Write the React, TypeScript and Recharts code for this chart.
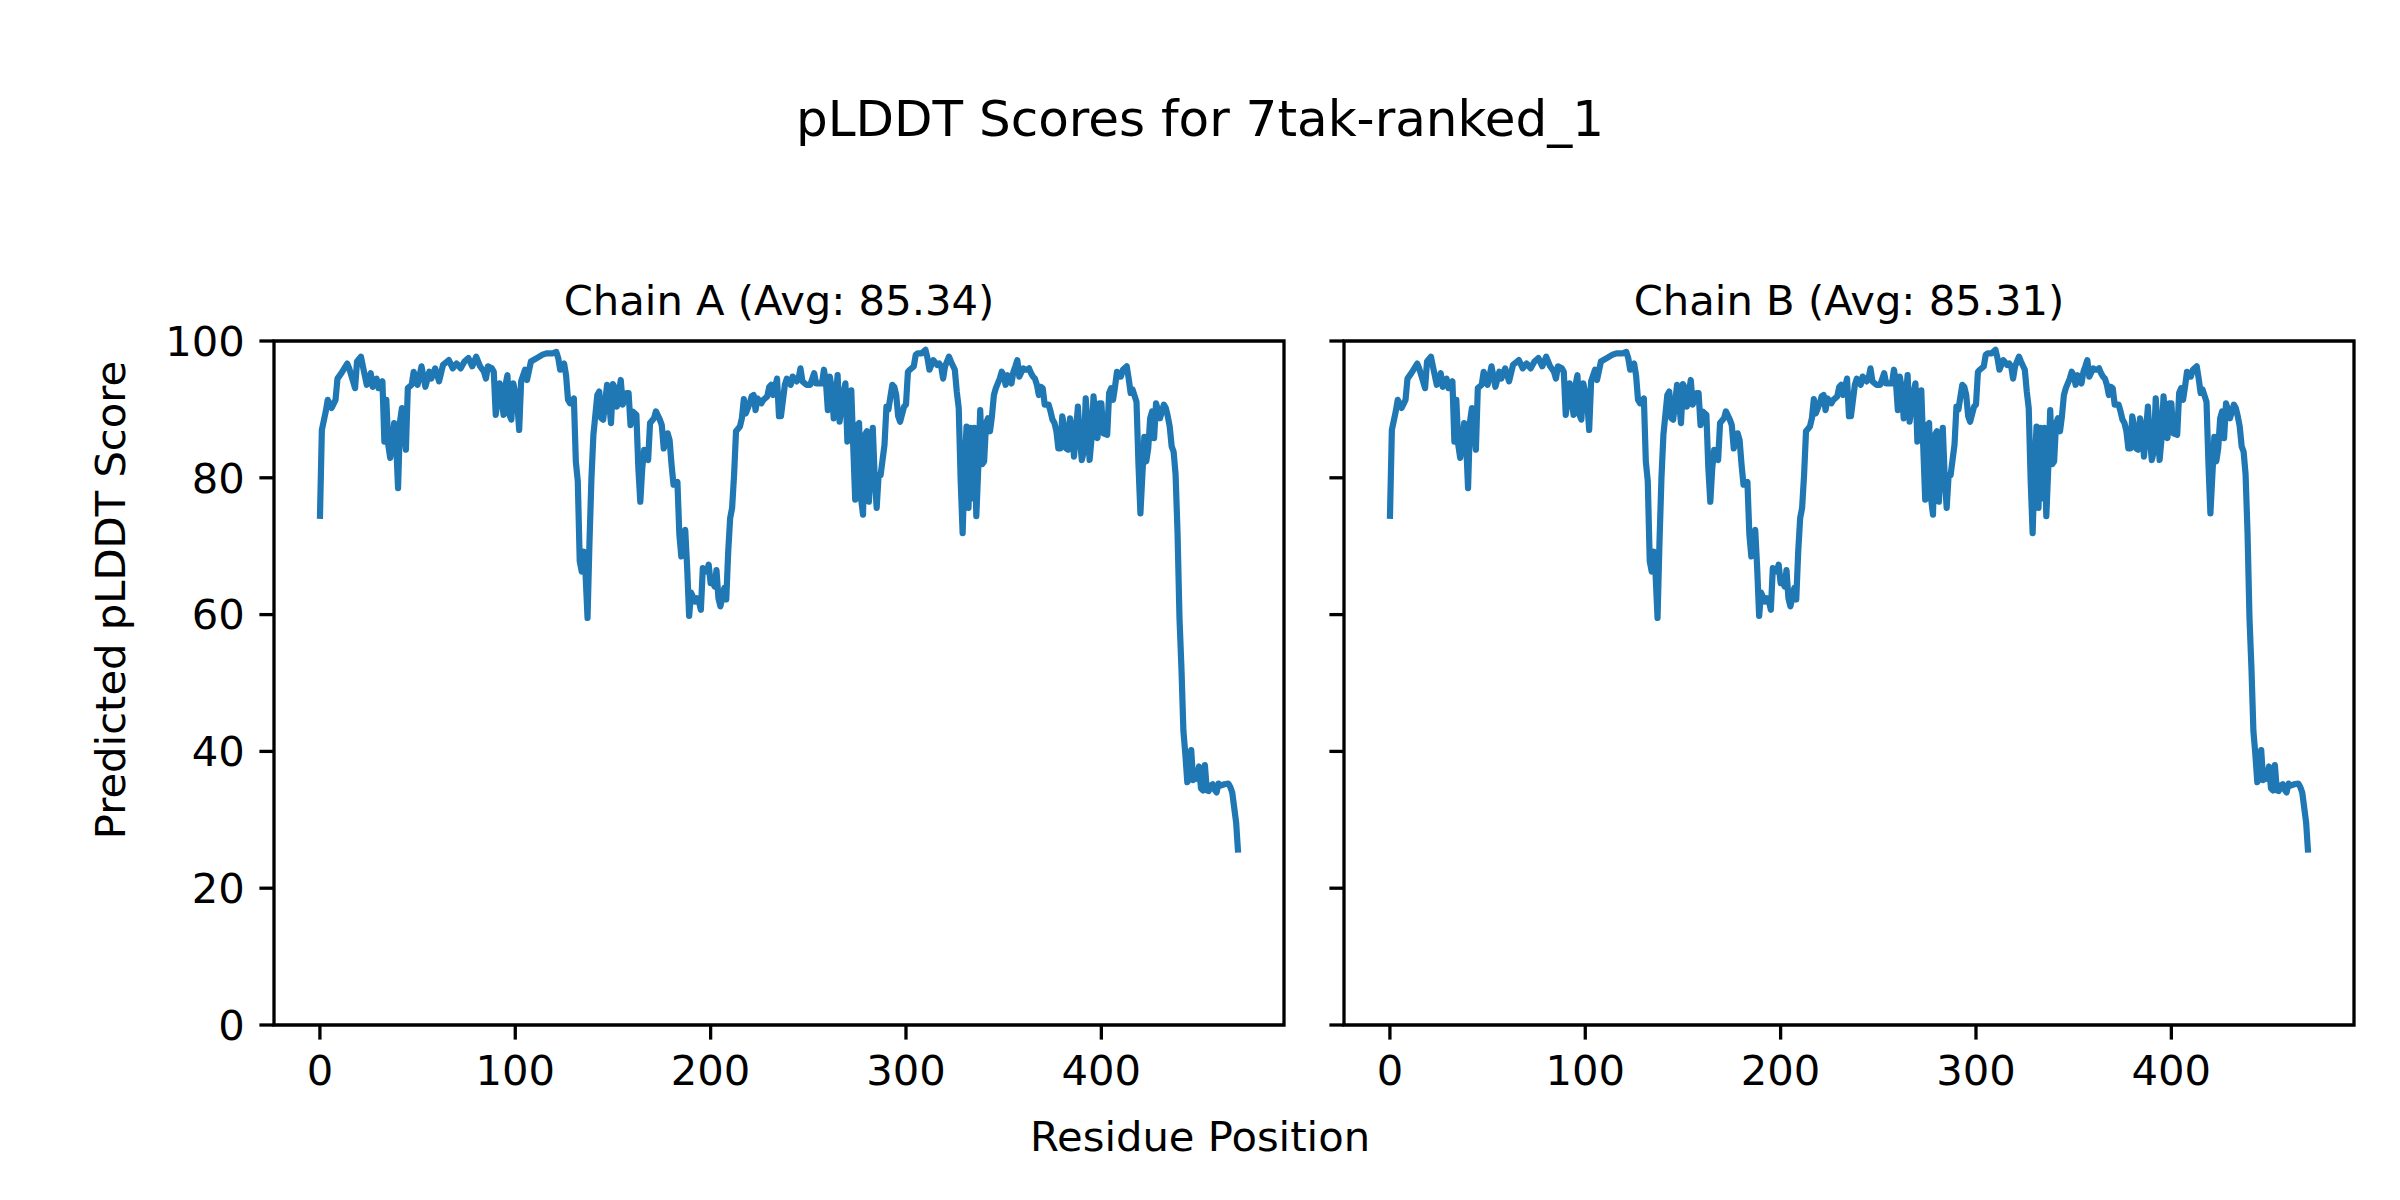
import { LineChart, Line, XAxis, YAxis, ReferenceArea } from "recharts";

// residue index -> pLDDT
const residuePositions = [
  0, 1, 3, 4, 6, 8, 9, 11, 14, 15, 18, 19, 21, 22, 24, 26, 27, 29, 30, 32,
  33, 34, 35, 36, 38, 39, 40, 41, 42, 44, 45, 47, 48, 50, 52, 54, 56, 57, 59, 61,
  63, 66, 68, 70, 72, 74, 76, 78, 80, 82, 84, 85, 86, 88, 89, 90, 92, 94, 95, 96,
  97, 98, 99, 101, 102, 103, 105, 106, 108, 111, 114, 116, 119, 121, 122, 123, 125, 126, 127, 128,
  130, 131, 132, 133, 134, 135, 136, 137, 138, 139, 140, 142, 143, 144, 145, 147, 148, 149, 150, 151,
  152, 154, 155, 157, 158, 159, 160, 162, 163, 164, 165, 166, 168, 169, 171, 172, 174, 175, 176, 178,
  179, 180, 181, 183, 184, 185, 187, 188, 189, 190, 192, 193, 194, 195, 196, 198, 199, 200, 201, 202,
  203, 204, 205, 207, 208, 209, 210, 211, 212, 213, 215, 216, 217, 218, 220, 221, 222, 223, 224, 226,
  227, 229, 230, 231, 232, 234, 235, 236, 238, 239, 241, 242, 244, 245, 246, 247, 249, 251, 253, 254,
  256, 257, 258, 259, 260, 261, 262, 263, 264, 265, 266, 268, 269, 270, 271, 272, 273, 274, 275, 276,
  277, 278, 279, 280, 281, 282, 283, 284, 285, 286, 287, 289, 290, 291, 293, 294, 295, 296, 297, 299,
  300, 301, 302, 304, 305, 306, 308, 310, 311, 312, 314, 316, 317, 318, 319, 320, 322, 323, 325, 326,
  327, 328, 329, 330, 331, 332, 333, 334, 335, 336, 337, 338, 339, 340, 341, 342, 343, 344, 345, 346,
  348, 349, 350, 351, 352, 354, 355, 356, 357, 358, 360, 361, 362, 363, 364, 365, 366, 367, 368, 369,
  370, 371, 373, 374, 375, 376, 377, 378, 379, 380, 381, 382, 383, 384, 385, 386, 387, 388, 389, 390,
  391, 392, 393, 394, 395, 396, 397, 398, 399, 400, 401, 403, 404, 405, 406, 407, 408, 409, 410, 411,
  413, 414, 415, 416, 418, 419, 420, 421, 422, 423, 424, 425, 426, 427, 428, 429, 430, 432, 433, 434,
  435, 436, 437, 438, 439, 440, 441, 442, 443, 444, 445, 446, 447, 448, 449, 450, 451, 452, 453, 454,
  455, 456, 457, 458, 459, 460, 461, 463, 465, 466, 467, 468, 469, 470,
];

const chainAScores = [
  74, 87, 89.7, 91.4, 90.2, 91.4, 94.5, 95.3, 96.7, 96, 93.1, 97, 97.7, 96.3, 93.6, 95.3, 93.3, 94.5, 93.1, 94.1,
  85.3, 91.4, 84.8, 82.9, 88, 85.3, 78.5, 88.2, 90.2, 84.1, 93.1, 93.6, 95.5, 93.6, 96.3, 93.3, 95.5, 94.5, 96, 94.1,
  96.5, 97.2, 96, 96.7, 96, 97, 97.5, 96.3, 97.7, 96.3, 95.5, 94.5, 96.3, 96, 95.5, 89.2, 93.8, 89.2, 93.6, 95,
  89.2, 88.5, 93.8, 91.1, 87, 94.1, 95.8, 94.3, 97, 97.5, 98, 98.2, 98.2, 98.4, 97.5, 95.8, 96.7, 95, 91.4, 90.9,
  91.6, 82.4, 79.5, 67.8, 66.3, 69.2, 65.8, 59.5, 70.7, 80, 86.3, 92.1, 92.6, 88.7, 88.5, 93.6, 91.1, 88, 93.7, 93.1,
  90.4, 94.3, 90.7, 92.4, 92.4, 87.7, 89.7, 89.2, 81.4, 76.5, 81.4, 84.1, 82.6, 88, 88.7, 89.7, 88.5, 87.7, 84.3, 86.5,
  85.5, 81.9, 79, 79.4, 71.7, 68.5, 72.4, 66.8, 59.8, 63.2, 61.9, 62.4, 61.9, 60.7, 66.8, 66.3, 67.3, 64.6, 64.9, 64.1,
  66.5, 62.4, 61.2, 63.9, 62.2, 69.2, 74.1, 75.6, 80.4, 86.8, 87.5, 88.7, 91.5, 89.4, 90.9, 91.9, 92.1, 89.9, 91.6, 90.9,
  91.4, 91.9, 93.3, 93.6, 92.1, 94.5, 89, 89, 93.6, 94.5, 93.6, 94.8, 94.1, 94.5, 96, 94.1, 93.6, 93.6, 95.3, 93.8,
  93.8, 93.8, 95.8, 94.1, 89.9, 94.8, 93.1, 88.7, 91.6, 95, 88.2, 92.4, 93.8, 85.3, 88.2, 92.8, 84.6, 76.8, 87.7, 88,
  77, 74.6, 86.3, 86.8, 76.5, 82.4, 87.3, 80, 75.6, 80.4, 80.4, 84.8, 90.4, 90, 93.6, 93.3, 92.1, 89, 88.2, 90.4,
  90.7, 95.5, 95.8, 96.3, 98, 98.2, 98.2, 98.7, 97.5, 95.8, 97.2, 96.5, 96.7, 96.3, 94.5, 96.3, 97.7, 97, 95.8, 92.6,
  90.2, 79.5, 71.9, 81.4, 87.5, 75.6, 87.3, 77, 87.3, 74.4, 81.4, 89.9, 82, 82.4, 88, 88.7, 86.8, 89, 92.1, 93.1,
  94.5, 95.5, 95, 93.6, 95, 93.8, 95.5, 96.3, 97.2, 94.8, 96, 95.8, 95.8, 96, 95.3, 94.8, 94.5, 93.6, 92.1, 93.3,
  93.1, 90.7, 90.7, 89.7, 88.5, 88, 86.8, 84.3, 84.3, 89, 87.5, 84.3, 84.1, 88.7, 87, 83.1, 86.8, 90.4, 85.8, 82.6,
  83.8, 91.6, 87.7, 82.6, 85.8, 91.9, 88.5, 85.8, 90.9, 90.9, 86.5, 86.3, 92.4, 93.1, 91.4, 93.3, 95.5, 94.8, 94.8, 95.8,
  96.3, 94.5, 92.4, 92.9, 91.1, 82, 74.8, 80.4, 86, 82.4, 84.3, 88.7, 89.7, 85.8, 90.9, 89.9, 88.7, 90.7, 90.2, 89,
  87.5, 84.6, 83.8, 80.5, 72, 59.5, 52.2, 43, 39.6, 35.5, 36, 40.2, 35.8, 37.2, 36, 37.8, 34.6, 34.3, 38, 34.3,
  34.2, 35, 35.2, 34.4, 34, 35.3, 35, 35.2, 35.3, 34.8, 34, 31.8, 29.6, 25.2,
];

// chain B is a homodimer copy; at this resolution it reads the same as chain A
const chainBScores = chainAScores;

const xTicks = [0, 100, 200, 300, 400];
const yTicks = [0, 20, 40, 60, 80, 100];

const FONT = "DejaVu Sans";
const BLUE = "#1f77b4";
const tickStyle = { fontFamily: FONT, fontSize: 41.7, fill: "#000" };

function Panel({ scores, width, yAxisWidth, rightMargin, showYLabels }) {
  const rows = residuePositions.map((pos, i) => ({ pos, score: scores[i] }));
  return (
    <LineChart
      width={width}
      height={1200}
      data={rows}
      margin={{ top: 341, right: rightMargin, bottom: 0, left: 0 }}
    >
      <XAxis
        dataKey="pos"
        type="number"
        domain={[-23.5, 493.5]}
        allowDataOverflow
        ticks={xTicks}
        interval={0}
        height={175}
        axisLine={false}
        tickLine={{ stroke: "#000", strokeWidth: 3.3 }}
        tickSize={14.6}
        tickMargin={16}
        tick={tickStyle}
      />
      <YAxis
        type="number"
        domain={[0, 100]}
        allowDataOverflow
        ticks={yTicks}
        interval={0}
        width={yAxisWidth}
        axisLine={false}
        tickLine={{ stroke: "#000", strokeWidth: 3.3 }}
        tickSize={14.6}
        tickMargin={14.6}
        tick={tickStyle}
        tickFormatter={showYLabels ? (v) => String(v) : () => ""}
      />
      <Line
        dataKey="score"
        type="linear"
        stroke={BLUE}
        strokeWidth={6.2}
        strokeLinejoin="round"
        dot={false}
        isAnimationActive={false}
      />
      <ReferenceArea
        x1={-23.5}
        x2={493.5}
        y1={0}
        y2={100}
        fill="none"
        fillOpacity={0}
        stroke="#000"
        strokeWidth={3.3}
        ifOverflow="visible"
      />
    </LineChart>
  );
}

export default function App() {
  return (
    <div
      style={{
        position: "absolute",
        left: 0,
        top: 0,
        width: 2400,
        height: 1200,
        background: "#fff",
      }}
    >
      <div style={{ position: "absolute", left: 0, top: 0 }}>
        <Panel scores={chainAScores} width={1300} yAxisWidth={274} rightMargin={16} showYLabels />
      </div>
      <div style={{ position: "absolute", left: 1300, top: 0 }}>
        <Panel scores={chainBScores} width={1100} yAxisWidth={44} rightMargin={46} showYLabels={false} />
      </div>
      <svg
        width={2400}
        height={1200}
        style={{ position: "absolute", left: 0, top: 0, pointerEvents: "none" }}
        fontFamily={FONT}
      >
        <text x={1200} y={136} textAnchor="middle" fontSize={50}>
          pLDDT Scores for 7tak-ranked_1
        </text>
        <text x={779} y={315} textAnchor="middle" fontSize={41.7}>
          Chain A (Avg: 85.34)
        </text>
        <text x={1849} y={315} textAnchor="middle" fontSize={41.7}>
          Chain B (Avg: 85.31)
        </text>
        <text x={1200} y={1151} textAnchor="middle" fontSize={41.7}>
          Residue Position
        </text>
        <text
          x={0}
          y={0}
          textAnchor="middle"
          fontSize={41.7}
          transform="translate(125 600) rotate(-90)"
        >
          Predicted pLDDT Score
        </text>
      </svg>
    </div>
  );
}
